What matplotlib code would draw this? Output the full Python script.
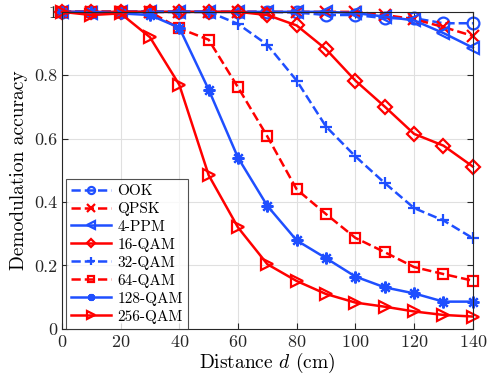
import numpy as np
import matplotlib
matplotlib.use("Agg")
import matplotlib.pyplot as plt
from matplotlib.ticker import FormatStrFormatter

plt.rcParams['font.family'] = 'serif'
plt.rcParams['font.serif'] = ['cmr10']
plt.rcParams['mathtext.fontset'] = 'cm'
plt.rcParams['axes.formatter.use_mathtext'] = True

distance = np.arange(0, 150, 10)

ook    = [1.0, 1.0, 1.0, 1.0, 1.0, 1.0, 1.0, 1.0, 0.998, 0.99, 0.99, 0.98, 0.98, 0.964, 0.964]
qpsk   = [1.0, 1.0, 1.0, 1.0, 1.0, 1.0, 1.0, 1.0, 1.0, 1.0, 1.0, 0.99, 0.977, 0.952, 0.924]
ppm4   = [1.0, 0.995, 1.0, 1.0, 1.0, 1.0, 1.0, 1.0, 1.0, 1.0, 0.996, 0.985, 0.973, 0.933, 0.887]
qam16  = [1.0, 1.0, 1.0, 1.0, 1.0, 1.0, 1.0, 0.99, 0.957, 0.882, 0.783, 0.701, 0.615, 0.578, 0.512]
qam32  = [1.0, 1.0, 1.0, 1.0, 1.0, 1.0, 0.962, 0.896, 0.783, 0.638, 0.544, 0.46, 0.381, 0.342, 0.286]
qam64  = [1.0, 1.0, 1.0, 1.0, 0.948, 0.912, 0.762, 0.607, 0.44, 0.362, 0.287, 0.242, 0.195, 0.173, 0.152]
qam128 = [1.0, 1.0, 0.995, 0.99, 0.95, 0.755, 0.54, 0.388, 0.279, 0.223, 0.165, 0.131, 0.112, 0.086, 0.086]
qam256 = [1.0, 0.99, 0.995, 0.92, 0.77, 0.485, 0.32, 0.204, 0.151, 0.11, 0.083, 0.07, 0.055, 0.044, 0.039]

blue = '#1f4fff'
red = '#ff0000'

series = [
    ('OOK', ook, blue, '--', 'o'),
    ('QPSK', qpsk, red, '--', 'x'),
    ('4-PPM', ppm4, blue, '-', '<'),
    ('16-QAM', qam16, red, '-', 'D'),
    ('32-QAM', qam32, blue, '--', '+'),
    ('64-QAM', qam64, red, '--', 's'),
    ('128-QAM', qam128, blue, '-', (8, 2, 0)),
    ('256-QAM', qam256, red, '-', '>'),
]

fig = plt.figure(figsize=(4.91, 3.82), dpi=100)
ax = fig.add_axes([0.126, 0.139, 0.837, 0.830])

for name, vals, col, ls, mk in series:
    ms = 8.5
    if mk == 'D':
        ms = 7.5
    elif mk == 's':
        ms = 7
    ax.plot(distance, vals, color=col, linestyle=ls, linewidth=1.8,
            marker=mk, markersize=ms, markerfacecolor='none',
            markeredgecolor=col, markeredgewidth=1.6, label=name, clip_on=False)

ax.set_xlim(0, 140)
ax.set_ylim(0, 1)
ax.set_xticks(np.arange(0, 141, 20))
ax.set_yticks(np.arange(0, 1.01, 0.2))
ax.yaxis.set_major_formatter(FormatStrFormatter('%g'))
ax.grid(True, color='#e0e0e0', linewidth=0.8)
ax.set_axisbelow(True)
ax.tick_params(direction='in', labelsize=13, colors='#262626', top=True, right=True, length=4)
for sp in ax.spines.values():
    sp.set_color('#262626')
    sp.set_linewidth(0.8)

ax.set_xlabel(r'Distance $d$ (cm)', fontsize=14, labelpad=1)
ax.set_ylabel('Demodulation accuracy', fontsize=14, labelpad=4)

leg = ax.legend(loc='lower left', bbox_to_anchor=(0.01, 0.0), fontsize=11,
                frameon=True, fancybox=False, edgecolor='#262626',
                handlelength=2.6, labelspacing=0.26, markerscale=0.6,
                borderaxespad=0.0, handletextpad=0.4, borderpad=0.35)
leg.get_frame().set_linewidth(0.8)

fig.savefig('out.png', dpi=100)
